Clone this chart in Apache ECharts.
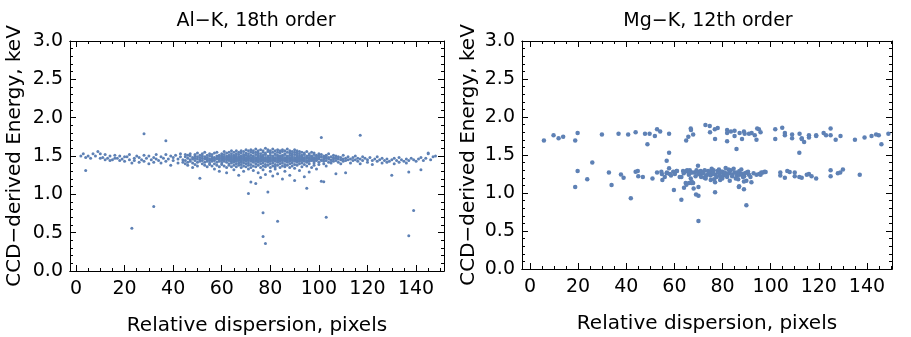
<!DOCTYPE html>
<html>
<head>
<meta charset="utf-8">
<script src="https://cdn.jsdelivr.net/npm/echarts@6/dist/echarts.min.js"></script>
<style>
  html, body { margin: 0; padding: 0; background: #fff; }
  #chart { width: 911px; height: 337px; }
</style>
</head>
<body>
<div id="chart"></div>
<script>
// tick labels
const xTicks = [0, 20, 40, 60, 80, 100, 120, 140];
const xMinor = [5, 10, 15, 25, 30, 35, 45, 50, 55, 65, 70, 75, 85, 90, 95, 105, 110, 115, 125, 130, 135, 145, 150];

// Al-K: columns of [pixel, energies]
const alBand = [
  [2, [1.50]], [3, [1.53]], [4, [1.48, 1.31]], [5, [1.50]], [6, [1.47]], [7, [1.53]], [8, [1.50]],
  [9, [1.56]], [10, [1.53, 1.47]], [11, [1.48]], [12, [1.52, 1.45]], [13, [1.47]], [14, [1.50, 1.44]],
  [15, [1.45]], [16, [1.51, 1.47]], [17, [1.47]], [18, [1.44, 1.50]], [19, [1.46]], [20, [1.43, 1.49]],
  [21, [1.49]], [22, [1.45, 1.52]], [23, [1.41]], [24, [1.47, 1.44]], [25, [1.50]], [26, [1.42, 1.48]],
  [27, [1.45]], [28, [1.79, 1.51, 1.43]], [29, [1.47]], [30, [1.40, 1.50]], [31, [1.45]], [32, [1.48, 1.42]],
  [33, [1.52, 1.46]], [34, [1.44]], [35, [1.49, 1.41]], [36, [1.47]], [37, [1.70, 1.52, 1.43]], [38, [1.46]],
  [39, [1.50, 1.38]], [40, [1.48, 1.44]], [41, [1.51]], [42, [1.46, 1.41]], [43, [1.49, 1.53]], [44, [1.45, 1.42]],
  [45, [1.44, 1.49, 1.52, 1.40]],
  [46, [1.47, 1.42, 1.51, 1.38]],
  [47, [1.45, 1.50, 1.43, 1.53]],
  [48, [1.48, 1.41, 1.46, 1.35]],
  [49, [1.44, 1.50, 1.47, 1.52, 1.39]],
  [50, [1.46, 1.42, 1.49, 1.54, 1.37]],
  [51, [1.45, 1.48, 1.21, 1.43, 1.51]],
  [52, [1.47, 1.44, 1.50, 1.40, 1.53]],
  [53, [1.46, 1.49, 1.42, 1.55, 1.38]],
  [54, [1.45, 1.48, 1.43, 1.51, 1.36, 1.47]],
  [55, [1.46, 1.50, 1.41, 1.44, 1.53, 1.39]],
  [56, [1.47, 1.43, 1.49, 1.52, 1.37, 1.45]],
  [57, [1.44, 1.48, 1.46, 1.54, 1.40, 1.33]],
  [58, [1.46, 1.50, 1.42, 1.47, 1.55, 1.38]],
  [59, [1.45, 1.49, 1.43, 1.51, 1.36, 1.47, 1.30]],
  [60, [1.46, 1.44, 1.50, 1.48, 1.41, 1.53, 1.39]],
  [61, [1.47, 1.43, 1.45, 1.52, 1.49, 1.37, 1.56]],
  [62, [1.45, 1.48, 1.42, 1.50, 1.46, 1.54, 1.35, 1.28]],
  [63, [1.46, 1.44, 1.49, 1.51, 1.40, 1.47, 1.55, 1.38]],
  [64, [1.45, 1.48, 1.43, 1.50, 1.46, 1.53, 1.36, 1.41, 1.57]],
  [65, [1.47, 1.44, 1.49, 1.42, 1.51, 1.45, 1.55, 1.38, 1.32]],
  [66, [1.46, 1.48, 1.43, 1.50, 1.45, 1.53, 1.40, 1.57, 1.36]],
  [67, [1.45, 1.47, 1.44, 1.49, 1.52, 1.41, 1.55, 1.38, 1.47, 1.25]],
  [68, [1.46, 1.48, 1.43, 1.50, 1.45, 1.54, 1.39, 1.57, 1.35, 1.42]],
  [69, [1.47, 1.44, 1.49, 1.46, 1.52, 1.41, 1.56, 1.37, 1.50, 1.30]],
  [70, [1.45, 1.48, 1.43, 1.51, 1.46, 1.54, 1.40, 1.58, 1.36, 1.44]],
  [71, [1.46, 1.49, 1.44, 1.50, 1.47, 1.53, 1.41, 1.57, 1.38, 1.01, 1.33]],
  [72, [1.45, 1.47, 1.43, 1.51, 1.48, 1.55, 1.39, 1.58, 1.35, 1.16]],
  [73, [1.46, 1.49, 1.44, 1.50, 1.42, 1.54, 1.47, 1.57, 1.37, 1.31]],
  [74, [1.45, 1.48, 1.43, 1.52, 1.46, 1.55, 1.40, 1.59, 1.36, 1.14]],
  [75, [1.47, 1.44, 1.49, 1.51, 1.42, 1.54, 1.46, 1.57, 1.38, 1.28]],
  [76, [1.46, 1.48, 1.43, 1.50, 1.45, 1.53, 1.40, 1.58, 1.35, 1.22]],
  [77, [1.45, 1.49, 1.44, 1.51, 1.47, 1.55, 1.41, 1.57, 1.37, 1.32]],
  [78, [1.46, 1.48, 1.43, 1.52, 1.45, 1.54, 1.39, 1.60, 1.36, 1.26]],
  [79, [1.47, 1.44, 1.49, 1.50, 1.42, 1.56, 1.46, 1.58, 1.38, 1.03]],
  [80, [1.46, 1.48, 1.43, 1.51, 1.45, 1.54, 1.40, 1.57, 1.35, 1.30]],
  [81, [1.45, 1.49, 1.44, 1.50, 1.47, 1.55, 1.41, 1.59, 1.37, 1.24]],
  [82, [1.46, 1.48, 1.43, 1.52, 1.45, 1.53, 1.39, 1.57, 1.36, 1.33]],
  [83, [1.47, 1.44, 1.49, 1.51, 1.42, 1.55, 1.46, 1.58, 1.38, 1.27]],
  [84, [1.46, 1.48, 1.43, 1.50, 1.45, 1.54, 1.40, 1.57, 1.35]],
  [85, [1.45, 1.49, 1.44, 1.51, 1.47, 1.56, 1.41, 1.58, 1.37, 1.20]],
  [86, [1.46, 1.48, 1.43, 1.52, 1.45, 1.53, 1.39, 1.57, 1.36, 1.30]],
  [87, [1.47, 1.44, 1.49, 1.50, 1.42, 1.55, 1.46, 1.59, 1.38]],
  [88, [1.46, 1.48, 1.43, 1.51, 1.45, 1.54, 1.40, 1.57, 1.35, 1.25]],
  [89, [1.45, 1.49, 1.44, 1.50, 1.47, 1.53, 1.41, 1.56, 1.37]],
  [90, [1.46, 1.48, 1.43, 1.52, 1.45, 1.55, 1.39, 1.58, 1.34, 1.18]],
  [91, [1.47, 1.44, 1.49, 1.51, 1.42, 1.54, 1.46, 1.57, 1.38]],
  [92, [1.46, 1.48, 1.43, 1.50, 1.45, 1.53, 1.40, 1.56, 1.31]],
  [93, [1.45, 1.49, 1.44, 1.51, 1.47, 1.55, 1.41, 1.36]],
  [94, [1.46, 1.48, 1.43, 1.52, 1.45, 1.54, 1.39, 1.23]],
  [95, [1.47, 1.44, 1.49, 1.50, 1.42, 1.56, 1.37, 1.08]],
  [96, [1.46, 1.48, 1.43, 1.51, 1.45, 1.53, 1.40, 1.29]],
  [97, [1.45, 1.49, 1.44, 1.50, 1.47, 1.55, 1.35]],
  [98, [1.46, 1.48, 1.43, 1.52, 1.41, 1.54, 1.38]],
  [99, [1.47, 1.44, 1.49, 1.51, 1.45, 1.33]],
  [100, [1.46, 1.48, 1.42, 1.50, 1.53, 1.39]],
  [101, [1.45, 1.49, 1.44, 1.52, 1.17, 1.74]],
  [102, [1.46, 1.48, 1.43, 1.50, 1.40, 1.165]],
  [103, [1.47, 1.44, 1.49, 1.51, 1.37]],
  [104, [1.46, 1.48, 1.42, 1.53]],
  [105, [1.45, 1.49, 1.44, 1.41]],
  [106, [1.46, 1.48, 1.43, 1.51]],
  [107, [1.47, 1.44, 1.50, 1.27]],
  [108, [1.46, 1.42, 1.49]],
  [109, [1.45, 1.48, 1.40]],
  [110, [1.46, 1.43, 1.51]],
  [111, [1.47, 1.44, 1.28]],
  [112, [1.45, 1.49]], [113, [1.46, 1.41]], [114, [1.48, 1.44]], [115, [1.45, 1.50]], [116, [1.43, 1.47]],
  [117, [1.46, 1.77, 1.40]], [118, [1.44, 1.49]], [119, [1.47]], [120, [1.45, 1.42]], [121, [1.48]],
  [122, [1.44, 1.39]], [123, [1.46]], [124, [1.43, 1.49]], [125, [1.45]], [126, [1.47, 1.41]], [127, [1.44]],
  [128, [1.46, 1.42]], [129, [1.43]], [130, [1.45, 1.25]], [131, [1.47, 1.40]], [132, [1.44]], [133, [1.42, 1.48]],
  [134, [1.45]], [135, [1.43]], [136, [1.46, 1.41]], [137, [1.44, 1.29]], [138, [1.47]], [139, [1.45]],
  [140, [1.43]], [141, [1.46]], [142, [1.48, 1.32]], [143, [1.44]], [144, [1.47]], [145, [1.53, 1.54]],
  [146, [1.45]], [147, [1.49]], [148, [1.50]]
];
const alOutliers = [
  [23, 0.557], [32, 0.84], [77, 0.76], [83, 0.65], [77, 0.45], [78, 0.36],
  [103, 0.70], [139, 0.79], [137, 0.46]
];

// Mg-K
const mgUpper = [
  [5.8, 1.69], [9.8, 1.76], [11.9, 1.72], [13.8, 1.74], [18.8, 1.69], [19.8, 1.79], [29.9, 1.77],
  [36.8, 1.78], [40.8, 1.77], [43.9, 1.80], [47.8, 1.78], [48.8, 1.64], [49.7, 1.78], [51.9, 1.75],
  [52.8, 1.84], [54.1, 1.81], [57.8, 1.78], [64.9, 1.69], [65.8, 1.74], [66.8, 1.85], [66.9, 1.83],
  [67.8, 1.77], [72.9, 1.895], [74.7, 1.88], [74.8, 1.80], [76.8, 1.84], [76.9, 1.71], [78, 1.855],
  [81.9, 1.83], [81.9, 1.79], [81.9, 1.68], [83.5, 1.81], [85, 1.82], [85, 1.75], [85.8, 1.58],
  [87.1, 1.79], [88.1, 1.71], [88.9, 1.81], [89.2, 1.78], [91, 1.78], [92.1, 1.79], [93.4, 1.76],
  [94.1, 1.70], [94.4, 1.85], [95.1, 1.84], [95.8, 1.80], [101.9, 1.84], [101.9, 1.71], [104.8, 1.86],
  [105.9, 1.79], [105.9, 1.76], [108.9, 1.77], [108.9, 1.72], [111.9, 1.53], [112, 1.78], [112.9, 1.72],
  [112.9, 1.71], [113.9, 1.67], [115.9, 1.76], [115.9, 1.73], [118.9, 1.76], [118.9, 1.75], [122, 1.79],
  [123, 1.76], [124.9, 1.85], [124.9, 1.76], [127, 1.70], [129, 1.75], [135, 1.70], [139, 1.73],
  [141.9, 1.75], [143.8, 1.77], [144.9, 1.76], [146, 1.64], [148.9, 1.78]
];
const mgLower = [
  [18.8, 1.08], [19.8, 1.29], [23.8, 1.18], [25.9, 1.40], [32.8, 1.27], [33.9, 1.105], [37.8, 1.245],
  [38.9, 1.20], [41.9, 0.93], [43.9, 1.28], [44.8, 1.29], [45, 1.22], [46.9, 1.21], [50.9, 1.19],
  [52.8, 1.27], [54.6, 1.28], [54.8, 1.25], [55, 1.17], [56, 1.21], [56.8, 1.425], [56.8, 1.26],
  [56.9, 1.27], [57.8, 1.53], [57.8, 1.325], [58.1, 1.25], [58.6, 1.23], [59.5, 1.28], [59.8, 1.04],
  [60.2, 1.25], [60.9, 1.29], [61.1, 1.29], [62.2, 1.21], [62.9, 1.21], [62.9, 0.91], [63.6, 1.29],
  [63.9, 1.26], [64, 1.07], [64.7, 1.13], [65, 1.29], [65, 1.11], [65.3, 1.30], [65.7, 1.28], [66, 1.24],
  [66.1, 1.13], [66.4, 1.30], [66.4, 1.26], [66.8, 1.19], [67.1, 1.13], [67.2, 1.15], [67.5, 1.27],
  [67.8, 1.13], [68, 1.06], [68.5, 1.27], [68.8, 1.22], [69, 0.98], [69.2, 1.30], [69.8, 1.36],
  [69.9, 1.25], [70, 1.08], [70, 0.965], [70, 0.63], [70.5, 1.28], [70.8, 1.24], [71, 1.29], [71.1, 1.21],
  [71.9, 1.26], [72, 1.27], [72.5, 1.20], [72.6, 1.30], [73, 1.19], [73, 1.22], [73.6, 1.24], [74, 1.29],
  [74.5, 1.25], [74.7, 1.28], [75, 1.23], [75.1, 1.17], [75.5, 1.32], [75.8, 1.25], [76, 1.27],
  [76.3, 1.30], [76.5, 1.18], [76.9, 1.01], [76.9, 1.14], [77, 1.24], [77.5, 1.21], [78, 1.29],
  [78.1, 1.27], [78.5, 1.31], [78.8, 1.24], [79, 1.22], [79, 1.17], [79.5, 1.28], [79.9, 1.19],
  [80, 1.28], [80.5, 1.23], [80.6, 1.25], [81, 1.27], [81.3, 1.33], [81.9, 1.21], [82, 1.24],
  [82.5, 1.31], [82.7, 1.26], [83, 1.28], [83, 1.16], [83.4, 1.30], [84, 1.22], [84.1, 1.24],
  [84.6, 1.32], [85, 1.27], [85.5, 1.19], [86, 1.23], [86, 1.27], [86.5, 1.18], [86.8, 1.08],
  [86.9, 1.09], [87, 1.29], [87.1, 1.24], [87.8, 1.31], [88, 1.25], [88.5, 1.21], [88.9, 1.05],
  [88.9, 1.15], [89, 1.22], [89.3, 1.26], [89.9, 1.16], [89.9, 0.84], [90, 1.27], [90.6, 1.28],
  [91, 1.24], [91.6, 1.21], [92, 1.14], [92.9, 1.26], [94.1, 1.24], [95.2, 1.25], [95.8, 1.24],
  [96.1, 1.27], [96.8, 1.27], [97.5, 1.28], [97.9, 1.275], [104, 1.27], [104, 1.23], [105.9, 1.20],
  [106.9, 1.29], [107.9, 1.275], [110, 1.27], [110, 1.22], [111.9, 1.21], [112.9, 1.20], [115, 1.24],
  [115.9, 1.25], [117, 1.22], [118.9, 1.19], [124.9, 1.30], [124.9, 1.22], [127.9, 1.26], [128.9, 1.27],
  [130, 1.31], [137, 1.24]
];

const alData = alBand.flatMap(([x, ys]) => ys.map(y => [x, y])).concat(alOutliers);
const mgData = mgUpper.concat(mgLower);

const dotColor = '#5E81B5';
const font = '"DejaVu Sans", Verdana, sans-serif';

const grids = [
  { left: 70, top: 41, width: 374, height: 230, min: -2.47, max: 151.5, nameGap: 45 },
  { left: 522, top: 41, width: 370, height: 228, min: -3.3, max: 150.4, nameGap: 43 }
];

const xAxes = [];
const yAxes = [];
grids.forEach((g, i) => {
  ['bottom', 'top'].forEach(pos => {
    xAxes.push({
      type: 'value', gridIndex: i, position: pos, min: g.min, max: g.max,
      name: pos === 'bottom' ? 'Relative dispersion, pixels' : '',
      nameLocation: 'middle', nameGap: 45,
      nameTextStyle: { fontFamily: font, fontSize: 20, color: '#000' },
      axisLine: { onZero: false, lineStyle: { color: '#000', width: 1 } },
      axisTick: { inside: true, length: 6, customValues: xTicks, lineStyle: { color: '#000' } },
      axisLabel: {
        show: pos === 'bottom', customValues: xTicks, margin: 9,
        fontFamily: font, fontSize: 19, color: '#000'
      },
      splitLine: { show: false }
    });
    xAxes.push({
      type: 'value', gridIndex: i, position: pos, min: g.min, max: g.max,
      axisLine: { onZero: false, lineStyle: { color: '#000', width: 1 } },
      axisTick: { inside: true, length: 3, customValues: xMinor, lineStyle: { color: '#000' } },
      axisLabel: { show: false, customValues: xMinor },
      splitLine: { show: false }
    });
  });
  ['left', 'right'].forEach(pos => {
    yAxes.push({
      type: 'value', gridIndex: i, position: pos, min: 0, max: 3, interval: 0.5,
      name: pos === 'left' ? 'CCD\u2212derived Energy, keV' : '',
      nameLocation: 'middle', nameGap: g.nameGap,
      nameTextStyle: { fontFamily: font, fontSize: 20, color: '#000' },
      axisLine: { onZero: false, lineStyle: { color: '#000', width: 1 } },
      axisTick: { inside: true, length: 6, lineStyle: { color: '#000' } },
      minorTick: { show: true, splitNumber: 5, length: 3, lineStyle: { color: '#000' } },
      axisLabel: {
        show: pos === 'left', margin: 7, formatter: v => v.toFixed(1),
        fontFamily: font, fontSize: 19, color: '#000'
      },
      splitLine: { show: false }
    });
  });
});

const chart = echarts.init(document.getElementById('chart'));
chart.setOption({
  animation: false,
  backgroundColor: '#fff',
  title: [
    { text: 'Al\u2212K, 18th order', left: 251, top: 7, textAlign: 'center',
      textStyle: { fontFamily: font, fontSize: 19, fontWeight: 'normal', color: '#000' } },
    { text: 'Mg\u2212K, 12th order', left: 703, top: 7, textAlign: 'center',
      textStyle: { fontFamily: font, fontSize: 19, fontWeight: 'normal', color: '#000' } }
  ],
  grid: grids.map(g => ({
    left: g.left, top: g.top, width: g.width, height: g.height, outerBoundsMode: 'none'
  })),
  xAxis: xAxes,
  yAxis: yAxes,
  series: [
    { type: 'scatter', xAxisIndex: 0, yAxisIndex: 0, data: alData,
      symbolSize: 3, itemStyle: { color: dotColor, opacity: 1 } },
    { type: 'scatter', xAxisIndex: 4, yAxisIndex: 2, data: mgData,
      symbolSize: 4.5, itemStyle: { color: dotColor, opacity: 1 } }
  ]
});
</script>
</body>
</html>
